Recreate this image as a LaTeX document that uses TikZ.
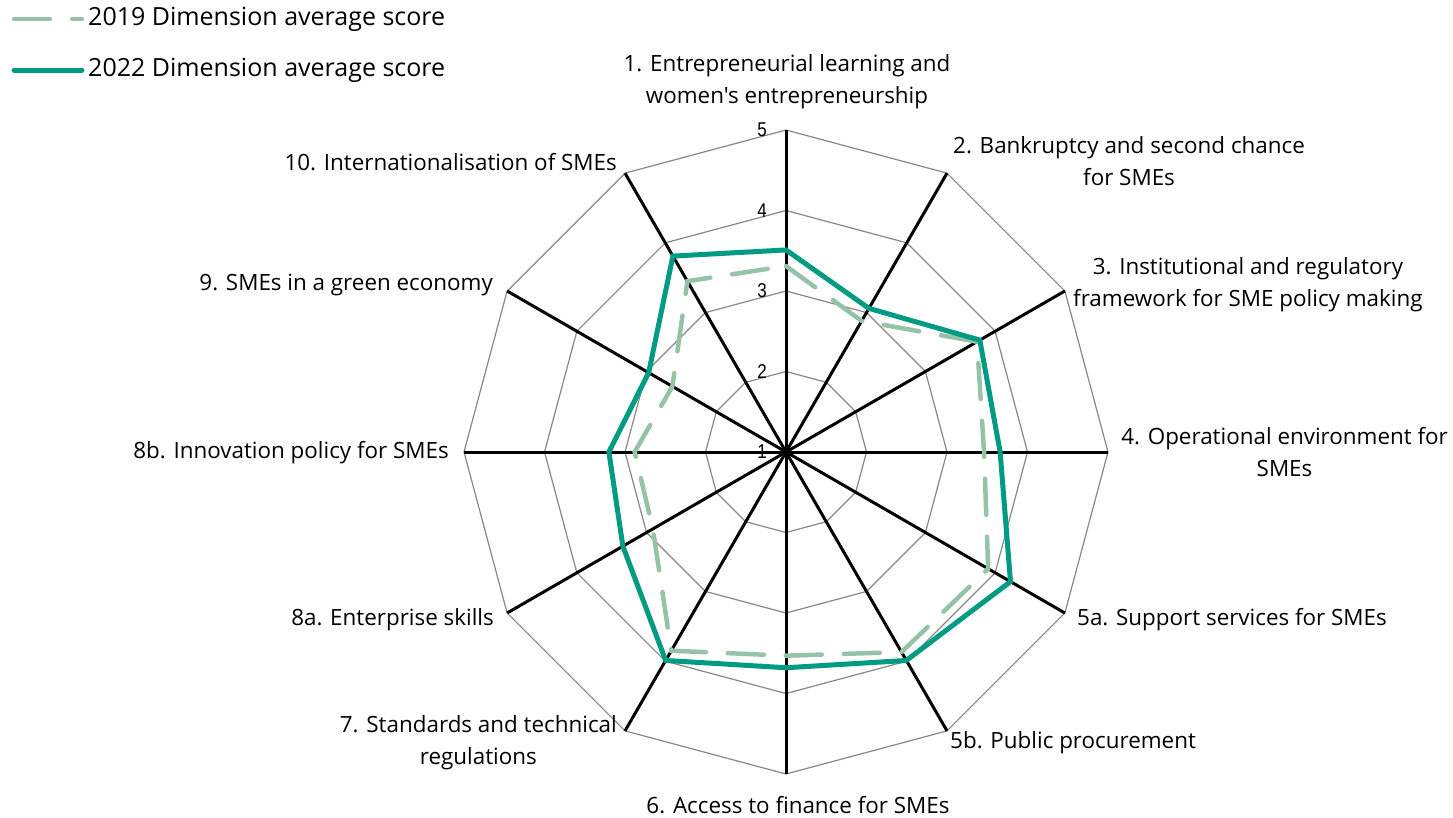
\documentclass[tikz,border=0pt]{standalone}
\usepackage{fontspec}
\setmainfont{Open Sans}[Ligatures=TeXOff]
\newfontfamily\numfont{Liberation Sans}
\usetikzlibrary{calc}
\definecolor{solidc}{RGB}{0,155,130}
\definecolor{dashc}{RGB}{150,195,168}
\definecolor{ringc}{RGB}{135,135,135}
\begin{document}
\begin{tikzpicture}[x=1pt,y=1pt,
  lbl/.style={inner sep=0pt, align=center, font=\fontsize{22.4}{32}\selectfont},
  leglbl/.style={inner sep=0pt, anchor=west, font=\fontsize{25}{30}\selectfont},
  numlbl/.style={inner sep=0pt, anchor=east, font=\numfont\fontsize{20}{22}\selectfont},
  ring/.style={draw=ringc, line width=1.2pt},
  axisline/.style={draw=black, line width=3pt},
  s22/.style={draw=solidc, line width=5pt, line join=miter},
  s19/.style={draw=dashc, line width=4.5pt, line cap=round, dash pattern=on 36pt off 22pt}]
\useasboundingbox (0,0) rectangle (1453,-817);
\coordinate (C) at (786,-452);
% rings
\foreach \k in {1,...,4} {
  \draw[ring] ($(C)+(90:{\k*80.5})$) \foreach \i in {1,...,11} { -- ($(C)+({90-30*\i}:{\k*80.5})$) } -- cycle;
}
% axes
\foreach \i in {0,...,11} {
  \coordinate (A\i) at ($(C)+({90-30*\i}:322)$);
  \draw[axisline] (C) -- (A\i);
}
% scale numbers
\foreach \k in {1,...,5} {
  \node[numlbl] (n\k) at (767,{-452+(\k-1)*80.5}) {\scalebox{0.85}[1]{\k}};
}
% data 2019
\foreach \v [count=\i from 0] in {3.31,2.88,3.74,3.46,3.90,3.87,3.53,3.85,2.91,2.88,2.63,3.45} {
  \coordinate (Q\i) at ($(C)+({90-30*\i}:{(\v-1)*80.5})$);
}
% data 2022
\foreach \v [count=\i from 0] in {3.51,3.06,3.78,3.66,4.22,3.99,3.68,3.99,3.34,3.20,2.97,3.81} {
  \coordinate (P\i) at ($(C)+({90-30*\i}:{(\v-1)*80.5})$);
}
\draw[s19] (Q0) -- (Q1) -- (Q2) -- (Q3) -- (Q4) -- (Q5) -- (Q6) -- (Q7) -- (Q8) -- (Q9) -- (Q10) -- (Q11) -- cycle;
\draw[s22] (P0) -- (P1) -- (P2) -- (P3) -- (P4) -- (P5) -- (P6) -- (P7) -- (P8) -- (P9) -- (P10) -- (P11) -- cycle;
% category labels
\node[lbl] (L1) at (787,-82) {1. Entrepreneurial learning and\\women's entrepreneurship};
\node[lbl, anchor=west] (L2) at (953,-161) {2. Bankruptcy and second chance\\for SMEs};
\node[lbl, anchor=west] (L3) at (1073,-285) {3. Institutional and regulatory\\framework for SME policy making};
\node[lbl, anchor=east] (L4) at (1448,-452) {4. Operational environment for\\SMEs};
\node[lbl, anchor=west] (L5a) at (1077,-620) {5a. Support services for SMEs};
\node[lbl, anchor=west] (L5b) at (950,-743) {5b. Public procurement};
\node[lbl] (L6) at (798,-805) {6. Access to finance for SMEs};
\node[lbl, anchor=east] (L7) at (617,-743) {7. Standards and technical\\regulations};
\node[lbl, anchor=east] (L8a) at (494,-620) {8a. Enterprise skills};
\node[lbl, anchor=east] (L8b) at (449,-453) {8b. Innovation policy for SMEs};
\node[lbl, anchor=east] (L9) at (493,-285) {9. SMEs in a green economy};
\node[lbl, anchor=east] (L10) at (617,-162) {10. Internationalisation of SMEs};
% legend
\coordinate (la1) at (14,-19);
\coordinate (lb1) at (82,-19);
\coordinate (la2) at (14,-70);
\coordinate (lb2) at (82,-70);
\draw[s19] (la1) -- (lb1);
\draw[s22, line cap=round] (la2) -- (lb2);
\node[leglbl] (T1) at (88,-19) {2019 Dimension average score};
\node[leglbl] (T2) at (88,-70) {2022 Dimension average score};
\end{tikzpicture}
\end{document}
